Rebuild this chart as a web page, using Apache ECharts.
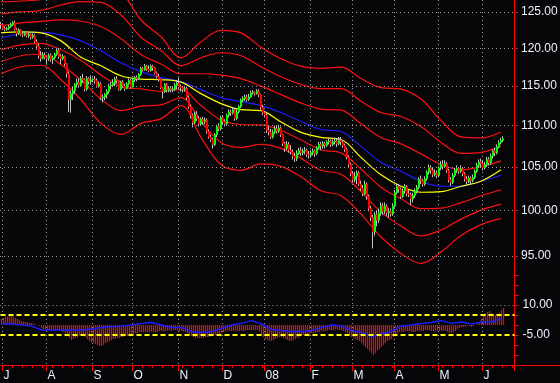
<!DOCTYPE html>
<html><head><meta charset="utf-8">
<script src="https://cdn.jsdelivr.net/npm/echarts@6/dist/echarts.min.js"></script>
<style>html,body{margin:0;padding:0;background:#060608;}#c{width:560px;height:383px;}</style>
</head><body><div id="c"></div>
<script>
const startDate = [2007, 5, 29];
const padDays = 5;
const monthLabels = ['J','A','S','O','N','D','08','F','M','A','M','J'];
const priceTicks = [95,100,105,110,115,120,125];
const oscLabels = [10,-5];
const oscLevels = [5,-5];
const oscGrid = [10];
// [open, close, low, high]
const ohlc = [
[123.3,123.2,122.6,123.6],[123.2,122.7,122.5,123.4],[122.7,122.6,122.3,123.0],[122.6,122.7,122.4,122.9],[122.7,123.0,122.5,123.2],
[123.0,123.2,122.8,123.5],[123.2,123.5,123.0,123.7],[123.5,122.6,122.4,123.8],[122.6,122.0,121.6,122.8],[122.0,122.5,121.8,122.7],
[122.5,121.9,121.7,122.6],[121.9,121.8,121.5,122.2],[121.8,122.1,121.6,122.3],[122.1,121.7,121.5,122.2],[121.7,121.9,121.4,122.1],
[121.9,121.5,121.2,122.0],[121.5,121.7,121.3,122.0],[121.7,120.9,120.7,121.9],[120.9,120.3,119.8,121.2],[120.3,119.0,118.6,120.6],
[119.0,118.7,118.2,119.6],[118.7,119.1,118.5,119.5],[119.1,118.8,118.5,119.4],[118.8,118.6,117.9,119.0],[118.6,119.0,118.3,119.3],
[119.0,118.5,118.2,119.3],[118.5,118.7,117.9,119.0],[118.7,119.2,118.5,119.4],[119.2,119.7,119.0,119.9],[119.7,118.9,118.6,120.0],
[118.9,118.6,117.9,119.2],[118.6,118.9,118.4,119.2],[118.9,117.9,117.6,119.0],[117.9,116.6,116.1,118.0],[116.6,113.3,111.7,116.9],
[113.3,114.0,111.6,114.4],[114.0,114.4,113.2,114.9],[114.4,115.2,114.0,115.4],[115.2,115.5,114.8,116.0],[115.5,115.1,114.8,116.0],
[115.1,116.0,114.9,116.3],[116.0,115.8,115.4,116.6],[115.8,114.6,114.3,116.0],[114.6,116.0,114.4,116.3],[116.0,115.6,115.2,116.2],
[115.6,115.8,115.2,116.4],[115.8,115.9,115.5,116.1],[115.9,115.7,115.3,116.3],[115.7,115.0,114.8,116.0],[115.0,115.3,114.8,115.6],
[115.3,113.5,113.2,115.5],[113.5,113.6,112.9,113.9],[113.6,113.9,113.2,114.1],[113.9,114.3,113.4,114.6],[114.3,115.0,114.0,115.3],
[115.0,115.1,114.6,115.5],[115.1,115.4,114.9,115.9],[115.4,115.9,115.0,116.2],[115.9,115.7,115.3,116.3],[115.7,114.6,114.4,115.8],
[114.6,115.5,114.4,115.7],[115.5,115.0,114.8,115.8],[115.0,114.7,114.4,115.3],[114.7,115.3,114.6,115.5],[115.3,115.7,115.1,116.0],
[115.7,114.9,114.7,115.9],[114.9,115.8,114.8,116.0],[115.8,116.1,115.5,116.3],[116.1,116.0,115.6,116.4],[116.0,116.5,115.8,116.7],
[116.5,117.3,116.3,117.5],[117.3,117.1,116.9,117.5],[117.1,117.6,117.0,117.9],[117.6,117.2,117.0,117.8],[117.2,117.0,116.8,117.7],
[117.0,117.6,116.9,117.8],[117.6,117.4,117.0,117.8],[117.4,116.7,116.5,117.5],[116.7,116.3,116.0,116.9],[116.3,115.9,115.6,116.6],
[115.9,114.8,114.6,116.0],[114.8,114.3,113.4,114.9],[114.3,115.2,114.1,115.4],[115.2,114.5,114.2,115.4],[114.5,114.7,114.2,115.0],
[114.7,114.5,114.2,115.0],[114.5,114.6,114.2,114.9],[114.6,115.1,114.4,115.4],[115.1,115.4,114.6,115.8],[115.4,114.9,114.6,116.1],
[114.9,114.8,114.3,115.2],[114.8,114.6,114.2,115.0],[114.6,114.7,114.3,115.0],[114.7,113.5,113.2,114.9],[113.5,112.4,112.1,113.8],
[112.4,111.3,110.9,112.6],[111.3,110.4,109.8,111.5],[110.4,111.4,110.2,111.7],[111.4,110.9,110.6,111.8],[110.9,110.2,109.9,111.2],
[110.2,110.8,110.0,111.0],[110.8,110.5,110.1,111.1],[110.5,110.7,110.2,111.0],[110.7,109.3,109.0,110.9],[109.3,108.6,108.4,109.5],
[108.6,108.3,108.0,108.9],[108.3,107.7,107.2,108.5],[107.7,108.9,107.5,109.1],[108.9,109.9,108.6,110.1],[109.9,109.6,109.3,110.3],
[109.6,111.0,109.4,111.2],[111.0,110.5,110.2,111.3],[110.5,110.2,109.9,110.8],[110.2,111.3,110.0,111.5],[111.3,111.7,111.0,112.0],
[111.7,111.6,111.2,112.0],[111.6,112.0,111.4,112.3],[112.0,110.9,110.6,112.2],[110.9,111.7,110.7,112.0],[111.7,112.4,111.5,112.6],
[112.4,113.2,112.2,113.4],[113.2,113.4,112.9,113.7],[113.4,113.6,113.1,113.9],[113.6,113.3,113.0,113.9],[113.3,113.6,113.1,114.0],
[113.6,114.1,113.5,114.4],[114.1,114.2,113.9,114.5],[114.2,114.0,113.8,114.3],[114.0,114.3,113.9,114.6],[114.3,113.9,113.6,114.6],
[113.9,112.3,112.0,114.0],[112.3,111.6,111.3,112.6],[111.6,111.3,111.0,111.8],[111.3,109.4,109.1,111.5],[109.4,109.2,108.8,109.9],
[109.2,108.6,108.4,109.6],[108.6,109.2,108.4,109.5],[109.2,109.6,109.0,110.0],[109.6,109.3,109.0,110.0],[109.3,109.7,109.1,110.1],
[109.7,108.9,108.6,109.9],[108.9,107.8,107.5,109.0],[107.8,107.2,106.8,108.0],[107.2,107.7,107.0,108.1],[107.7,107.0,106.7,108.0],
[107.0,106.8,106.5,107.6],[106.8,106.3,105.9,107.1],[106.3,106.0,105.6,106.7],[106.0,106.6,105.7,107.0],[106.6,107.0,106.4,107.3],
[107.0,106.7,106.3,107.4],[106.7,106.9,106.4,107.2],[106.9,107.0,106.5,107.4],[107.0,106.5,106.2,107.2],[106.5,106.4,106.0,106.9],
[106.4,106.7,106.1,107.0],[106.7,106.9,106.4,107.2],[106.9,106.6,106.2,107.1],[106.6,107.3,106.4,107.5],[107.3,107.7,107.1,108.0],
[107.7,107.5,107.0,108.0],[107.5,107.8,107.2,108.1],[107.8,107.6,107.2,108.0],[107.6,108.0,107.4,108.2],[108.0,108.1,107.7,108.4],
[108.1,107.7,107.4,108.3],[107.7,108.0,107.5,108.3],[108.0,108.1,107.7,108.5],[108.1,107.8,107.4,108.4],[107.8,108.2,107.6,108.6],
[108.2,108.0,107.6,108.6],[108.0,107.6,107.3,108.2],[107.6,107.1,106.8,107.8],[107.1,106.2,105.9,107.3],[106.2,105.3,105.0,106.4],
[105.3,104.2,103.9,105.5],[104.2,103.5,103.2,104.5],[103.5,103.9,103.2,104.4],[103.9,104.3,103.0,104.6],[104.3,103.0,102.8,104.5],
[103.0,102.5,102.2,103.4],[102.5,101.9,101.6,102.9],[101.9,103.0,101.7,103.4],[103.0,101.6,101.2,103.2],[101.6,100.2,99.9,101.8],
[100.2,99.2,98.8,100.5],[99.2,97.6,95.8,99.5],[97.6,99.5,97.2,99.8],[99.5,98.9,98.2,100.0],[98.9,99.7,98.6,100.2],
[99.7,100.5,99.4,100.9],[100.5,99.9,99.5,100.8],[99.9,100.5,99.6,100.9],[100.5,99.7,99.4,100.7],[99.7,99.9,99.2,100.3],
[99.9,99.6,99.3,100.2],[99.6,100.5,99.4,100.8],[100.5,102.0,100.3,102.3],[102.0,102.7,101.8,103.0],[102.7,102.4,102.0,103.0],
[102.4,101.6,101.3,102.6],[101.6,102.2,101.4,102.5],[102.2,102.7,101.9,103.0],[102.7,101.9,101.6,102.9],[101.9,101.8,101.5,102.3],
[101.8,101.3,100.6,102.0],[101.3,101.7,100.9,102.0],[101.7,102.2,101.4,102.5],[102.2,102.6,101.9,102.9],[102.6,103.6,102.4,103.8],
[103.6,103.4,103.0,104.0],[103.4,103.0,102.7,103.6],[103.0,103.6,102.8,103.9],[103.6,104.4,103.4,104.6],[104.4,104.9,104.1,105.3],
[104.9,104.6,104.2,105.2],[104.6,104.1,103.8,104.9],[104.1,104.3,103.9,104.7],[104.3,104.0,103.7,104.6],[104.0,104.9,103.8,105.1],
[104.9,105.3,104.6,105.7],[105.3,105.1,104.7,105.8],[105.1,105.4,104.9,105.8],[105.4,104.6,104.3,105.6],[104.6,103.5,103.2,104.8],
[103.5,103.2,102.8,103.8],[103.2,104.0,103.0,104.3],[104.0,104.6,103.8,104.9],[104.6,104.8,104.3,105.2],[104.8,104.5,104.2,105.0],
[104.5,104.8,104.3,105.2],[104.8,104.2,103.9,105.0],[104.2,103.6,103.3,104.4],[103.6,103.3,103.0,103.9],[103.3,103.7,103.1,104.0],
[103.7,103.4,103.0,103.9],[103.4,103.8,103.2,104.1],[103.8,104.5,103.6,104.7],[104.5,105.2,104.3,105.5],[105.2,105.6,104.9,105.9],
[105.6,105.4,105.0,106.0],[105.4,104.9,104.6,105.8],[104.9,105.3,104.7,105.6],[105.3,105.9,105.0,106.2],[105.9,105.5,105.2,106.2],
[105.5,106.3,105.3,106.6],[106.3,106.9,106.0,107.1],[106.9,106.7,106.3,107.3],[106.7,107.4,106.5,107.7],[107.4,107.9,107.2,108.2],
[107.9,108.2,107.7,108.5],[108.2,108.4,108.0,108.7]
];
// indicator lines, sampled every 10 trading days
const lineStep = 10;
const maSlow  = [121.41,121.96,122.16,121.82,121.00,119.66,118.06,116.88,116.09,115.57,114.54,113.52,113.01,112.51,111.63,110.51,109.52,109.28,107.46,105.55,104.49,103.33,102.75,102.75,103.33,104.03];
const maFast  = [122.09,122.23,122.09,121.00,118.79,117.66,116.35,115.90,115.83,115.51,114.03,112.76,112.00,111.88,110.45,109.16,108.55,108.30,106.14,104.08,102.75,102.06,102.12,102.75,103.33,104.67];
const bandUp3 = [126.41,126.55,126.76,128.12,129.29,129.84,127.97,123.87,121.56,118.72,120.87,122.44,122.09,120.13,118.59,117.60,117.33,117.47,115.98,114.80,114.61,113.33,110.63,108.61,108.49,109.22];
const bandUp2 = [124.72,125.00,125.21,125.98,126.46,126.35,124.58,121.49,119.71,117.66,118.72,119.39,118.99,117.53,116.22,115.19,114.67,114.67,113.06,111.63,111.13,109.89,107.94,106.62,106.74,107.46];
const bandUp1 = [123.06,123.47,123.68,123.88,123.70,122.96,121.28,119.16,117.89,116.61,116.61,116.42,115.96,114.99,113.90,112.82,112.07,111.94,110.23,108.55,107.76,106.56,105.31,104.67,105.02,105.73];
const bandDn1 = [119.79,120.46,120.67,119.79,118.36,116.45,114.93,114.63,114.32,114.54,112.51,110.70,110.14,110.08,109.40,108.24,107.04,106.68,104.76,102.64,101.32,100.19,100.25,100.87,101.66,102.35];
const bandDn2 = [118.19,118.99,119.19,117.80,115.78,113.32,111.88,112.43,112.59,113.52,110.51,107.94,107.34,107.70,107.22,106.02,104.61,104.14,102.13,99.80,98.25,97.16,97.81,99.02,100.03,100.70];
const bandDn3 = [116.61,117.53,117.73,115.83,113.25,110.28,108.91,110.28,110.87,112.51,108.55,105.26,104.61,105.37,105.08,103.85,102.23,101.66,99.57,97.05,95.27,94.21,95.43,97.21,98.41,99.08];
// oscillator histogram, one value per day
const oscHist = [
3,3.5,4,4.2,4.5,4.5,4.2,3.5,3,2.5,
2,1.8,1.5,1.5,1.2,1,0.8,0.5,0,-0.5,
-1.5,-2,-2.5,-2.5,-3,-3,-2.8,-2.5,-2.5,-2.8,
-3,-3.5,-4,-5,-6.5,-7.5,-7,-6.5,-6,-5.5,
-5,-5.5,-6,-7,-8,-8.5,-9,-9.5,-10,-10.5,
-10.5,-10,-9,-8.5,-8,-7.5,-7,-7,-6.5,-6.5,
-6,-6,-5.5,-5.5,-5,-5,-4.5,-4,-4,-3.5,
-3.5,-3.5,-3.5,-3.5,-3.5,-3.5,-3.5,-3.5,-3.5,-3,
-3,-3,-3,-2.8,-2.8,-2.8,-2.5,-2.5,-2.8,-3,
-3,-3.3,-3.5,-4,-5,-5.5,-6,-6.5,-6.5,-6.5,
-6.5,-6.5,-6,-6,-6,-5.5,-5.5,-5,-5,-4.5,
-4,-3.5,-3.3,-3,-3,-3,-3,-3,-3,-3,
-3,-3,-2.8,-2.5,-2.5,-2.5,-2.5,-2.5,-2.5,-3,
-5,-6,-7,-7.5,-8,-8,-7.5,-7,-6.5,-6,
-6,-6.5,-7,-7.5,-8,-8,-7.5,-7,-6.5,-6,
-5.5,-5,-5,-4.5,-4.5,-4,-4,-3.8,-3.5,-3.5,
-3.3,-3,-3,-2.8,-2.5,-2.5,-2.5,-2.3,-2.3,-2.5,
-2.5,-3,-3.5,-4,-5,-6,-6.5,-7,-7.5,-8,
-9,-10,-11,-12,-13,-14,-15,-14,-12.5,-12,
-11,-10,-9,-8,-7.5,-7,-6,-5,-4,-3.5,
-3.5,-3.5,-3,-3,-3,-3.5,-3.5,-3.5,-3,-3,
-3,-3,-2.5,-2.5,-2.5,-3,-3,-3,-3,-3,
-3,-3,-3,-3.5,-4,-4,-3.5,-3,-2,-1.5,
-1,-1,-1,-0.5,-0.5,-1,-0.5,0,0.5,1,
3,5,6,6.5,7,6,5.5,5,5,6,
7.5,8.5
];
// oscillator signal line, sampled every 5 days
const oscStep = 5;
const oscLine = [0.8,0.5,0,-0.5,-2.5,-2.5,-2.5,-2.5,-2.5,-2,-1.2,-0.8,-0.5,0,0.8,1.3,0,-1.2,-1.2,-3.3,-3.8,-3.3,-1.7,0,0.8,2.2,0.5,-2.2,-2.8,-3.3,-3.3,-2.8,-1.2,0,-0.5,-2.8,-3.7,-5.8,-4.5,-3,-0.5,0,0.8,1.3,2.2,0.8,1.5,0.5,1.5,1.5,3.3];

// ---- categories (trading days) ----
const dates = [];
(function(){
  let t = Date.UTC(startDate[0], startDate[1], startDate[2]);
  while (dates.length < ohlc.length + padDays) {
    const d = new Date(t);
    const wd = d.getUTCDay();
    if (wd > 0 && wd < 6) dates.push(d.toISOString().slice(0,10));
    t += 86400000;
  }
})();
const monthStart = {};
let mCount = 0;
for (let i = 1; i < ohlc.length; i++) {
  if (dates[i].slice(0,7) !== dates[i-1].slice(0,7)) { monthStart[i] = monthLabels[mCount++]; }
}
const isMonth = i => monthStart[i] !== undefined;
const isMonday = i => new Date(dates[i] + 'T00:00:00Z').getUTCDay() === 1;

const pairs = (arr, step) => arr.map((v, k) => [k * step, v]);
const bodies = ohlc.map(d => [d[0], d[1], Math.min(d[0], d[1]), Math.max(d[0], d[1])]);

const FONT = 'Liberation Sans, Arial, sans-serif';
const TXT = '#eef0ff';
const GRIDC = '#9c9c9c';
const RED = '#ff0000';

const bandSeries = [bandUp3, bandUp2, bandUp1, bandDn1, bandDn2, bandDn3].map(b => ({
  type: 'line', xAxisIndex: 0, yAxisIndex: 0, data: pairs(b, lineStep), symbol: 'none', smooth: 0.35,
  lineStyle: { color: '#ff1010', width: 1.2 }, z: 2, silent: true
}));

const chart = echarts.init(document.getElementById('c'), null, { renderer: 'canvas' });
chart.setOption({
  animation: false,
  backgroundColor: '#060608',
  grid: [
    { left: 0, top: 0, width: 514, height: 275, outerBoundsMode: 'none', containLabel: false },
    { left: 0.5, top: 275, width: 514, height: 90, outerBoundsMode: 'none', containLabel: false }
  ],
  graphic: [
    { type: 'line', silent: true, z: 100, shape: { x1: 514, y1: 365.5, x2: 560, y2: 365.5 }, style: { stroke: RED, lineWidth: 1 } }
  ],
  xAxis: [
    { type: 'category', gridIndex: 0, data: dates, boundaryGap: true,
      axisLine: { show: false }, axisTick: { show: false }, axisLabel: { show: false },
      splitLine: { show: true, interval: isMonth, lineStyle: { color: GRIDC, type: [1, 3], width: 1 } } },
    { type: 'category', gridIndex: 1, data: dates, boundaryGap: true, position: 'bottom',
      axisLine: { show: true, onZero: false, lineStyle: { color: RED, width: 1 } },
      axisTick: { show: true, interval: isMonday, length: 3, lineStyle: { color: RED } },
      axisLabel: { show: true, interval: isMonth, formatter: (v, i) => monthStart[i] || '',
        align: 'left', margin: 5, color: TXT, fontSize: 12, fontFamily: FONT },
      splitLine: { show: true, interval: isMonth, lineStyle: { color: GRIDC, type: [1, 3], width: 1 } } },
    { type: 'category', gridIndex: 1, data: dates, boundaryGap: true, position: 'bottom', offset: 0,
      axisLine: { show: false, onZero: false }, axisLabel: { show: false }, splitLine: { show: false },
      axisTick: { show: true, interval: isMonth, length: 6, lineStyle: { color: RED } } }
  ],
  yAxis: [
    { type: 'log', gridIndex: 0, position: 'right', logBase: 10, min: 92.99, max: 126.69,
      axisLine: { show: true, lineStyle: { color: RED, width: 1 } },
      axisTick: { show: true, customValues: priceTicks, length: 4, lineStyle: { color: RED } },
      axisLabel: { show: true, customValues: priceTicks, margin: 7, color: TXT, fontSize: 12, fontFamily: FONT,
        formatter: v => Number(v).toFixed(2) },
      splitLine: { show: false } },
    { type: 'value', gridIndex: 1, position: 'right', min: -20, max: 25, interval: 5,
      axisLine: { show: true, lineStyle: { color: RED, width: 1 } },
      axisTick: { show: true, length: 4, lineStyle: { color: RED } },
      axisLabel: { show: true, margin: 8, color: TXT, fontSize: 12, fontFamily: FONT,
        formatter: v => oscLabels.indexOf(v) >= 0 ? v.toFixed(2) : '' },
      splitLine: { show: false } }
  ],
  series: [
    { type: 'line', xAxisIndex: 0, yAxisIndex: 0, data: [], symbol: 'none', z: 1, silent: true,
      markLine: { silent: true, symbol: ['none', 'none'], animation: false, label: { show: false },
        lineStyle: { color: GRIDC, type: [1, 3], width: 1 },
        data: priceTicks.map(v => ({ yAxis: v })) } },
    ...bandSeries,
    { type: 'line', xAxisIndex: 0, yAxisIndex: 0, data: pairs(maSlow, lineStep), symbol: 'none', smooth: 0.35,
      lineStyle: { color: '#1c1cff', width: 1.2 }, z: 3, silent: true },
    { type: 'line', xAxisIndex: 0, yAxisIndex: 0, data: pairs(maFast, lineStep), symbol: 'none', smooth: 0.35,
      lineStyle: { color: '#ffff00', width: 1.2 }, z: 3, silent: true },
    { type: 'candlestick', xAxisIndex: 0, yAxisIndex: 0, data: ohlc, barWidth: 1, z: 4, silent: true,
      itemStyle: { color: '#c4c4c4', color0: '#c4c4c4', borderColor: '#c4c4c4', borderColor0: '#c4c4c4', borderWidth: 1 } },
    { type: 'candlestick', xAxisIndex: 0, yAxisIndex: 0, data: bodies, barWidth: 2, z: 5, silent: true,
      itemStyle: { color: '#00ff00', color0: '#ff0000', borderColor: '#00ff00', borderColor0: '#ff0000', borderWidth: 1 } },
    { type: 'line', xAxisIndex: 1, yAxisIndex: 1, data: [], symbol: 'none', silent: true, z: 1,
      markLine: { silent: true, symbol: ['none', 'none'], animation: false, label: { show: false },
        lineStyle: { color: GRIDC, type: [1, 3], width: 1 },
        data: oscGrid.map(v => ({ yAxis: v })) } },
    { type: 'bar', xAxisIndex: 1, yAxisIndex: 1, data: oscHist, barWidth: 1.2, silent: true,
      itemStyle: { color: '#ff0000' }, z: 2 },
    { type: 'line', xAxisIndex: 1, yAxisIndex: 1, data: [], symbol: 'none', silent: true, z: 4,
      markLine: { silent: true, symbol: ['none', 'none'], animation: false, label: { show: false },
        lineStyle: { color: '#ffff00', type: [5, 3], width: 2 },
        data: oscLevels.map(v => ({ yAxis: v })) } },
    { type: 'line', xAxisIndex: 1, yAxisIndex: 1, data: pairs(oscLine, oscStep), symbol: 'none',
      lineStyle: { color: '#1c1cff', width: 1.5 }, z: 3, silent: true }
  ]
});
</script></body></html>
